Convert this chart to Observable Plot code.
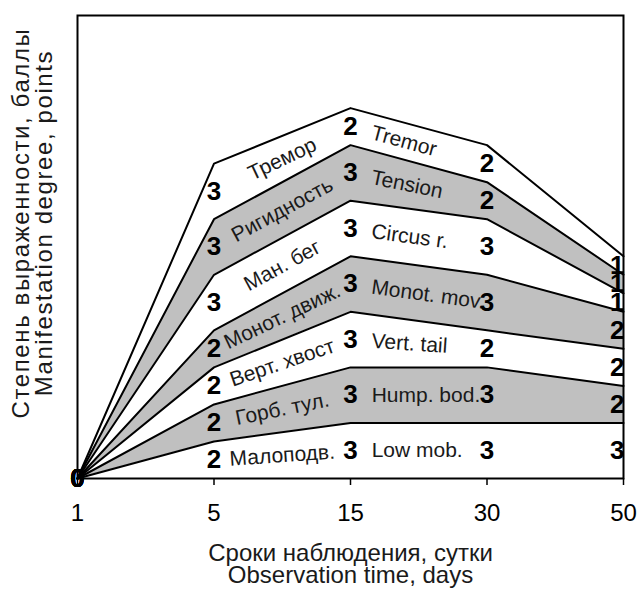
<!DOCTYPE html>
<html><head><meta charset="utf-8">
<script src="https://cdn.jsdelivr.net/npm/d3@7"></script>
<script src="https://cdn.jsdelivr.net/npm/@observablehq/plot@0.6"></script>
<style>
html,body{margin:0;padding:0;background:#fff;}
</style></head><body><div id="chart"></div>
<script>
// ---- data ----
const days = [1, 5, 15, 30, 50];
const layersRu = ["Малоподв.", "Горб. тул.", "Верт. хвост", "Монот. движ.", "Ман. бег", "Ригидность", "Тремор"];
const layersEn = ["Low mob.", "Hump. bod.", "Vert. tail", "Monot. mov.", "Circus r.", "Tension", "Tremor"];
const lowMob   = [0, 2, 3, 3, 3];
const humpBod  = [0, 2, 3, 3, 2];
const vertTail = [0, 2, 3, 2, 2];
const monotMov = [0, 2, 3, 3, 2];
const circusR  = [0, 3, 3, 3, 1];
const tension  = [0, 3, 3, 2, 1];
const tremor   = [0, 3, 2, 2, 1];
const yTitle = "Степень выраженности, баллы\nManifestation degree, points";
const xTitle = "Сроки наблюдения, сутки\nObservation time, days";

// ---- layout ----
const W = 637, H = 589, mL = 77, mR = 14, mT = 15, mB = 111;
const yMax = 25;
const pxX = (W - mL - mR) / (days.length - 1);
const pxY = (H - mT - mB) / yMax;

const series = [lowMob, humpBod, vertTail, monotMov, circusR, tension, tremor];
const rows = [];
series.forEach((vals, k) => vals.forEach((v, i) => rows.push({i, day: days[i], layer: layersEn[k], value: v})));

// midline of each band (in data units) at each observation
const mids = series.map((vals, k) => vals.map((v, i) =>
  series.slice(0, k).reduce((s, a) => s + a[i], 0) + v / 2));
const deg = (a, b) => -Math.atan((b - a) * pxY / pxX) * 180 / Math.PI;
const ruLabels = layersRu.map((t, k) => {
  const a = mids[k][1], b = mids[k][2];
  return {text: t, x: 1.5, y: (a + b) / 2, angle: deg(a, b)};
});
const f = 0.155;
const enLabels = layersEn.map((t, k) => {
  const a = mids[k][2], b = mids[k][3];
  return {text: t, x: 2 + f, y: a + f * (b - a), angle: deg(a, b)};
});

const font = "'Liberation Sans', Arial, Helvetica, sans-serif";

const chart = Plot.plot({
  width: W, height: H,
  marginLeft: mL, marginRight: mR, marginTop: mT, marginBottom: mB,
  style: {fontFamily: font, background: "white", color: "black"},
  x: {type: "linear", domain: [0, days.length - 1], axis: null, label: null},
  y: {domain: [0, yMax], axis: null, label: null},
  color: {type: "ordinal", domain: layersEn, range: layersEn.map((_, k) => k % 2 ? "#c0c0c0" : "#ffffff")},
  marks: [
    Plot.areaY(rows, {x: "i", y: "value", z: "layer", fill: "layer"}),
    Plot.lineY(rows, Plot.stackY2({x: "i", y: "value", z: "layer", stroke: "black", strokeWidth: 2})),
    Plot.text(ruLabels, {x: "x", y: "y", text: "text", rotate: "angle", fontSize: 21, fill: "#1a1a1a"}),
    Plot.text(enLabels, {x: "x", y: "y", text: "text", rotate: "angle", textAnchor: "start", fontSize: 21, fill: "#1a1a1a"}),
    Plot.text(rows, Plot.stackY({x: "i", y: "value", z: "layer", text: d => String(d.value),
      filter: d => d.i < days.length - 1, fontSize: 26, fontWeight: "bold", fill: "black"})),
    Plot.text(rows, Plot.stackY({x: "i", y: "value", z: "layer", text: d => String(d.value),
      filter: d => d.i === days.length - 1, textAnchor: "end", dx: 1, fontSize: 26, fontWeight: "bold", fill: "black"})),
    Plot.frame({stroke: "black", strokeWidth: 2}),
    Plot.axisX({ticks: d3.range(days.length), tickFormat: i => String(days[i]), tickSize: 7, tickPadding: 18,
      fontSize: 24, strokeWidth: 1.5, label: null}),
    Plot.text([yTitle], {frameAnchor: "left", textAnchor: "middle", lineAnchor: "middle", rotate: -90,
      dx: -44, dy: -24, fontSize: 24, lineHeight: 0.96, fill: "#1a1a1a"}),
    Plot.text([xTitle], {frameAnchor: "bottom", textAnchor: "middle", lineAnchor: "middle",
      dy: 86, fontSize: 24, lineHeight: 0.92, fill: "#1a1a1a"})
  ]
});
// slightly wider tracking for the rotated y-axis title, as in the source chart
d3.select(chart).selectAll("text")
  .filter(function () { return this.textContent.startsWith("Степень"); })
  .style("letter-spacing", "1.6px");
document.getElementById("chart").appendChild(chart);
</script>
</body></html>
